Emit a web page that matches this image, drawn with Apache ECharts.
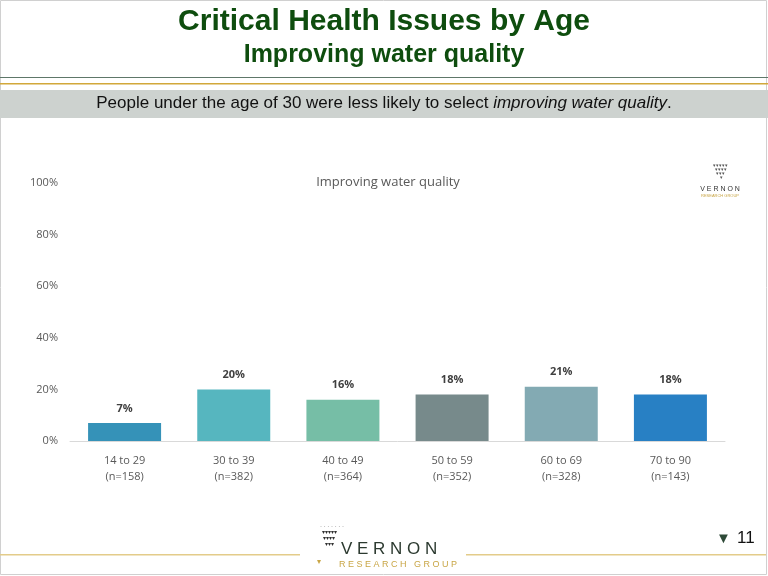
<!DOCTYPE html>
<html>
<head>
  <meta charset="utf-8">
  <title>Critical Health Issues by Age</title>
  <style>
  html, body { margin: 0; padding: 0; background: #fff; }
  #chart { width: 768px; height: 576px; }
  </style>
</head>
<body>
  <div id="chart"></div>
  <script src="https://cdn.jsdelivr.net/npm/echarts@6/dist/echarts.min.js"></script>
  <script>
  const categories = ['14 to 29\n(n=158)', '30 to 39\n(n=382)', '40 to 49\n(n=364)', '50 to 59\n(n=352)', '60 to 69\n(n=328)', '70 to 90\n(n=143)'];
  const values = [7, 20, 16, 18, 21, 18];
  const barColors = ['#3592b8', '#56b6bf', '#76bea6', '#778a8b', '#83aab3', '#2880c4'];
  const yTicks = [0, 20, 40, 60, 80, 100];

  const font = '"Liberation Sans", Arial, sans-serif';
  const chartFont = 'Open Sans, Lato, sans-serif';

  let myChart = echarts.init(document.getElementById('chart'));
  myChart.setOption({
    animation: false,
    grid: { left: 70, right: 43, top: 183, bottom: 135 },
    title: {
      text: 'Improving water quality',
      left: 383, top: 171, textAlign: 'center',
      textStyle: { fontFamily: chartFont, fontSize: 13, fontWeight: 'normal', color: '#595959' }
    },
    xAxis: {
      type: 'category',
      data: categories,
      axisTick: { show: false },
      axisLine: { lineStyle: { color: '#d9d9d9' } },
      axisLabel: { color: '#595959', fontFamily: chartFont, fontSize: 11, lineHeight: 16, margin: 12 }
    },
    yAxis: {
      type: 'value',
      min: yTicks[0], max: yTicks[yTicks.length - 1], interval: 20,
      splitLine: { show: false },
      axisLabel: { formatter: '{value}%', color: '#595959', fontFamily: chartFont, fontSize: 11, margin: 12 }
    },
    series: [{
      type: 'bar',
      barWidth: 73,
      data: values.map((v, i) => ({ value: v, itemStyle: { color: barColors[i] } })),
      label: {
        show: true, position: 'top', distance: 9, formatter: '{c}%',
        fontFamily: chartFont, fontSize: 11, fontWeight: 'bold', color: '#404040'
      }
    }],
    graphic: [
      { type: 'rect', shape: { x: 0.5, y: 0.5, width: 766, height: 574 }, style: { fill: 'none', stroke: '#d0d0d0' } },
      { type: 'text', left: 'center', top: 7, style: { text: 'Critical Health Issues by Age', font: 'bold 30px ' + font, fill: '#0e4d0e' } },
      { type: 'text', left: 'center', top: 43, style: { text: 'Improving water quality', font: 'bold 25px ' + font, fill: '#0e4d0e' } },
      { type: 'rect', shape: { x: 0, y: 77, width: 768, height: 1 }, style: { fill: '#5e7769' } },
      { type: 'rect', shape: { x: 0, y: 83, width: 768, height: 1.5 }, style: { fill: '#d2a83a' } },
      { type: 'rect', shape: { x: 0, y: 90, width: 768, height: 28 }, style: { fill: '#cdd2cf' } },
      { type: 'text', left: 'center', top: 95, style: {
        rich: { n: { font: '17px ' + font, fill: '#111' }, i: { font: 'italic 17px ' + font, fill: '#111' } },
        text: '{n|People under the age of 30 were less likely to select }{i|improving water quality}{n|.}'
      } },
      // small logo top right
      { type: 'text', x: 720, y: 164, style: { text: '▾▾▾▾▾\n ▾▾▾▾\n ▾▾▾\n  ▾', font: '5px ' + font, fill: '#555', align: 'center', lineHeight: 4 } },
      { type: 'text', x: 720, y: 186, style: { text: 'V E R N O N', font: '7px ' + font, fill: '#333', align: 'center' } },
      { type: 'text', x: 720, y: 194, style: { text: 'RESEARCH GROUP', font: '4px ' + font, fill: '#c9a646', align: 'center' } },
      // footer
      { type: 'rect', shape: { x: 0, y: 554, width: 300, height: 1.5 }, style: { fill: '#e3cc8a' } },
      { type: 'rect', shape: { x: 466, y: 554, width: 300, height: 1.5 }, style: { fill: '#e3cc8a' } },
      { type: 'text', x: 320, y: 523, style: { text: '· · · · · · ·\n ▾▾▾▾▾\n  ▾▾▾▾\n   ▾▾▾', font: '6px ' + font, fill: '#333', lineHeight: 6 } },
      { type: 'text', x: 341, y: 541, style: { text: 'V E R N O N', font: '17px ' + font, fill: '#2c3a30' } },
      { type: 'text', x: 317, y: 558, style: { text: '▾', font: '8px ' + font, fill: '#c9a646' } },
      { type: 'text', x: 339, y: 560, style: { text: 'R E S E A R C H   G R O U P', font: '9px ' + font, fill: '#c9a646' } },
      { type: 'text', x: 716, y: 531, style: { text: '▼', font: '15px ' + font, fill: '#2e4a38' } },
      { type: 'text', x: 737, y: 530, style: { text: '11', font: '17px ' + font, fill: '#111' } }
    ]
  });
  </script>
</body>
</html>
